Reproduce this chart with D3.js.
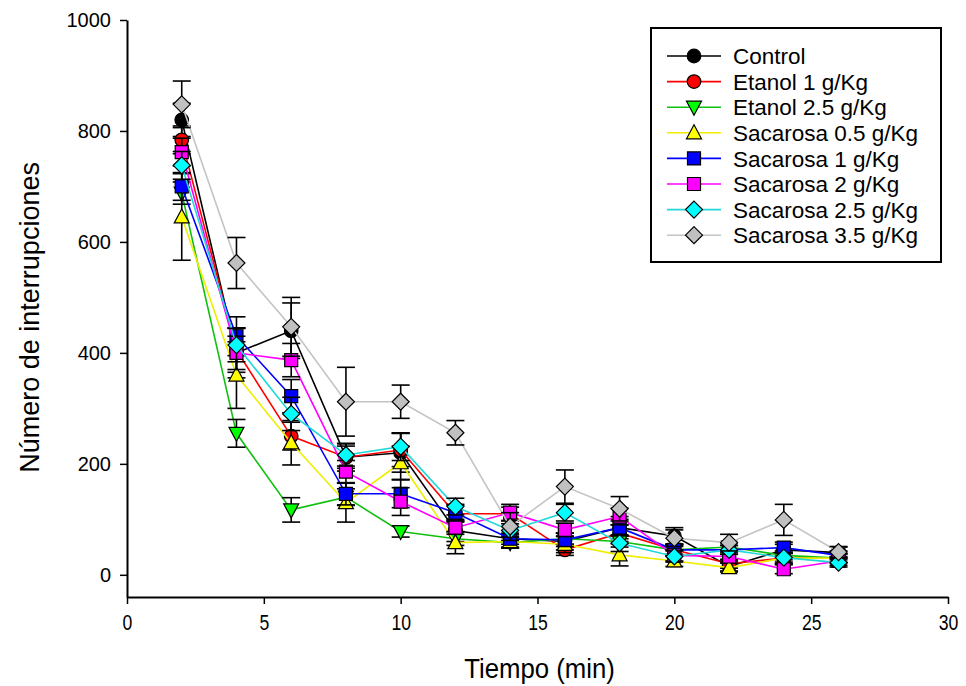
<!DOCTYPE html>
<html>
<head>
<meta charset="utf-8">
<script src="https://d3js.org/d3.v7.min.js"></script>
<style>
  body { margin: 0; background: #fff; }
  text { font-family: "Liberation Sans", Arial, sans-serif; }
</style>
</head>
<body>
<svg id="drawing_region"></svg>
<script>
// tiempo (min)
const times = [2, 4, 6, 8, 10, 12, 14, 16, 18, 20, 22, 24, 26];

const seriesNames = ["Control", "Etanol 1 g/Kg", "Etanol 2.5 g/Kg", "Sacarosa 0.5 g/Kg",
                     "Sacarosa 1 g/Kg", "Sacarosa 2 g/Kg", "Sacarosa 2.5 g/Kg", "Sacarosa 3.5 g/Kg"];

const control    = [820, 400, 440, 212, 220, 80, 65, 60, 85, 70, 15, 45, 40];
const etanol1    = [784, 405, 250, 212, 225, 110, 110, 45, 75, 45, 20, 30, 30];
const etanol25   = [688, 255, 117, 140, 78, 65, 58, 65, 60, 45, 50, 35, 30];
const sacarosa05 = [645, 360, 238, 130, 202, 58, 60, 55, 36, 25, 13, 30, 30];
const sacarosa1  = [700, 430, 322, 146, 146, 112, 65, 63, 85, 45, 45, 49, 35];
const sacarosa2  = [762, 400, 387, 186, 132, 85, 112, 81, 105, 35, 33, 10, 25];
const sacarosa25 = [738, 414, 290, 216, 231, 123, 80, 112, 57, 33, 45, 31, 22];
const sacarosa35 = [848, 562, 447, 312, 312, 256, 87, 159, 119, 66, 58, 99, 41];

// error estandar
const controlErr    = [30, 45, 50, 25, 35, 20, 15, 15, 20, 15, 8, 10, 10];
const etanol1Err    = [25, 40, 25, 20, 30, 15, 12, 10, 15, 10, 8, 10, 8];
const etanol25Err   = [20, 25, 22, 15, 10, 12, 10, 10, 10, 8, 8, 8, 8];
const sacarosa05Err = [78, 60, 40, 35, 30, 20, 12, 15, 20, 10, 8, 10, 8];
const sacarosa1Err  = [25, 35, 30, 20, 25, 15, 10, 12, 15, 10, 8, 10, 8];
const sacarosa2Err  = [25, 30, 30, 20, 25, 12, 15, 12, 15, 10, 8, 8, 8];
const sacarosa25Err = [25, 30, 30, 20, 25, 15, 12, 15, 15, 10, 8, 8, 8];
const sacarosa35Err = [42, 46, 53, 62, 30, 22, 25, 30, 22, 15, 15, 28, 10];

const yTicks = [0, 200, 400, 600, 800, 1000];
const xTicks = [0, 5, 10, 15, 20, 25, 30];

const seriesValues = [control, etanol1, etanol25, sacarosa05, sacarosa1, sacarosa2, sacarosa25, sacarosa35];
const seriesErrors = [controlErr, etanol1Err, etanol25Err, sacarosa05Err, sacarosa1Err, sacarosa2Err, sacarosa25Err, sacarosa35Err];
const fillColors = ["#000000", "#ff0000", "#00ff00", "#ffff00", "#0000ff", "#ff00ff", "#00ffff", "#c0c0c0"];
const lineColors = ["#000000", "#ff0000", "#10c010", "#eeee00", "#0000ff", "#ff00ff", "#20d8d8", "#c4c4c4"];
const symbols = ["circle", "circle", "triDown", "triUp", "square", "square", "diamond", "diamond"];

class ErrorLineChart {

    constructor( config, data ) {
        this.config = {
            parent: config.parent,
            width: config.width || 966,
            height: config.height || 686,
            left: config.left, right: config.right,
            top: config.top, bottom: config.bottom
        }
        this.data = data;
        this.init();
    }

    init() {
        let self = this;

        self.svg = d3.select( self.config.parent )
            .attr('width', self.config.width)
            .attr('height', self.config.height);

        self.xscale = d3.scaleLinear()
            .domain([0, 30])
            .range([self.config.left, self.config.right]);

        self.yscale = d3.scaleLinear()
            .domain([-40, 1000])
            .range([self.config.bottom, self.config.top]);

        self.line = d3.line()
            .x(d => self.xscale(d.t))
            .y(d => self.yscale(d.v));
    }

    update() {
        let self = this;
        self.render();
    }

    symbolPath( type ) {
        // simbolos tipo SigmaPlot
        if (type == "circle") return d3.symbol(d3.symbolCircle, 145)();
        if (type == "square") return "M-6.5,-6.5H6.5V6.5H-6.5Z";
        if (type == "diamond") return "M0,-8.5L8.5,0L0,8.5L-8.5,0Z";
        if (type == "triUp") return "M0,-8L7.5,6L-7.5,6Z";
        return "M0,8L7.5,-6L-7.5,-6Z";
    }

    render() {
        let self = this;

        // ejes
        self.svg.append('g')
            .attr('transform', `translate(0, ${self.config.bottom})`)
            .call(d3.axisBottom(self.xscale).tickValues(xTicks).tickSize(7).tickSizeOuter(0))
            .call(g => g.select('.domain').attr('stroke-width', 2))
            .call(g => g.selectAll('.tick line').attr('stroke-width', 1.5))
            .call(g => g.selectAll('.tick text').attr('font-size', 22).attr('dy', '1.05em')
                .attr('transform', 'scale(0.8, 1)'));

        self.svg.append('g')
            .attr('transform', `translate(${self.config.left}, 0)`)
            .call(d3.axisLeft(self.yscale).tickValues(yTicks).tickFormat(d3.format('d')).tickSize(7).tickSizeOuter(0))
            .call(g => g.select('.domain').attr('stroke-width', 2))
            .call(g => g.selectAll('.tick line').attr('stroke-width', 1.5))
            .call(g => g.selectAll('.tick text').attr('font-size', 20).attr('x', -16));

        self.svg.append('text')
            .attr('transform', `translate(${(self.config.left + self.config.right) / 2 + 2}, 678) scale(0.92, 1)`)
            .attr('text-anchor', 'middle')
            .attr('font-size', 28)
            .text('Tiempo (min)');

        self.svg.append('text')
            .attr('transform', `translate(39, ${self.yscale(500) + 20}) rotate(-90)`)
            .attr('text-anchor', 'middle')
            .attr('font-size', 27)
            .text('Número de interrupciones');

        // series
        self.data.forEach( s => {
            const g = self.svg.append('g');

            g.append('path')
                .datum(s.points)
                .attr('d', self.line)
                .attr('fill', 'none')
                .attr('stroke', s.line)
                .attr('stroke-width', 1.6);

            const eb = g.selectAll('.err')
                .data(s.points)
                .enter()
                .append('g')
                .attr('stroke', 'black')
                .attr('stroke-width', 1.6);

            eb.append('line')
                .attr('x1', d => self.xscale(d.t)).attr('x2', d => self.xscale(d.t))
                .attr('y1', d => self.yscale(d.v - d.e)).attr('y2', d => self.yscale(d.v + d.e));
            eb.append('line')
                .attr('x1', d => self.xscale(d.t) - 9).attr('x2', d => self.xscale(d.t) + 9)
                .attr('y1', d => self.yscale(d.v + d.e)).attr('y2', d => self.yscale(d.v + d.e));
            eb.append('line')
                .attr('x1', d => self.xscale(d.t) - 9).attr('x2', d => self.xscale(d.t) + 9)
                .attr('y1', d => self.yscale(d.v - d.e)).attr('y2', d => self.yscale(d.v - d.e));

            g.selectAll('.mark')
                .data(s.points)
                .enter()
                .append('path')
                .attr('transform', d => `translate(${self.xscale(d.t)}, ${self.yscale(d.v)})`)
                .attr('d', self.symbolPath(s.symbol))
                .attr('fill', s.fill)
                .attr('stroke', 'black')
                .attr('stroke-width', 1.2);
        });

        // leyenda
        const lg = self.svg.append('g');
        lg.append('rect')
            .attr('x', 651).attr('y', 28)
            .attr('width', 290).attr('height', 234)
            .attr('fill', 'white')
            .attr('stroke', 'black')
            .attr('stroke-width', 2);

        const item = lg.selectAll('.item')
            .data(self.data)
            .enter()
            .append('g')
            .attr('transform', (d, i) => `translate(0, ${56 + i * 25.6})`);

        item.append('line')
            .attr('x1', 667).attr('x2', 721)
            .attr('stroke', d => d.line)
            .attr('stroke-width', 1.6);
        item.append('path')
            .attr('transform', 'translate(694, 0)')
            .attr('d', d => self.symbolPath(d.symbol))
            .attr('fill', d => d.fill)
            .attr('stroke', 'black')
            .attr('stroke-width', 1.2);
        item.append('text')
            .attr('x', 733)
            .attr('dy', '0.36em')
            .attr('font-size', 22.5)
            .text(d => d.name);
    }
}

const data = seriesNames.map( (name, i) => ({
    name: name,
    fill: fillColors[i],
    line: lineColors[i],
    symbol: symbols[i],
    points: times.map( (t, j) => ({ t: t, v: seriesValues[i][j], e: seriesErrors[i][j] }) )
}));

var config = {
    parent: '#drawing_region',
    width: 966,
    height: 686,
    left: 127, right: 948,
    top: 20, bottom: 597
};

const chart = new ErrorLineChart( config, data );
chart.update();
</script>
</body>
</html>
